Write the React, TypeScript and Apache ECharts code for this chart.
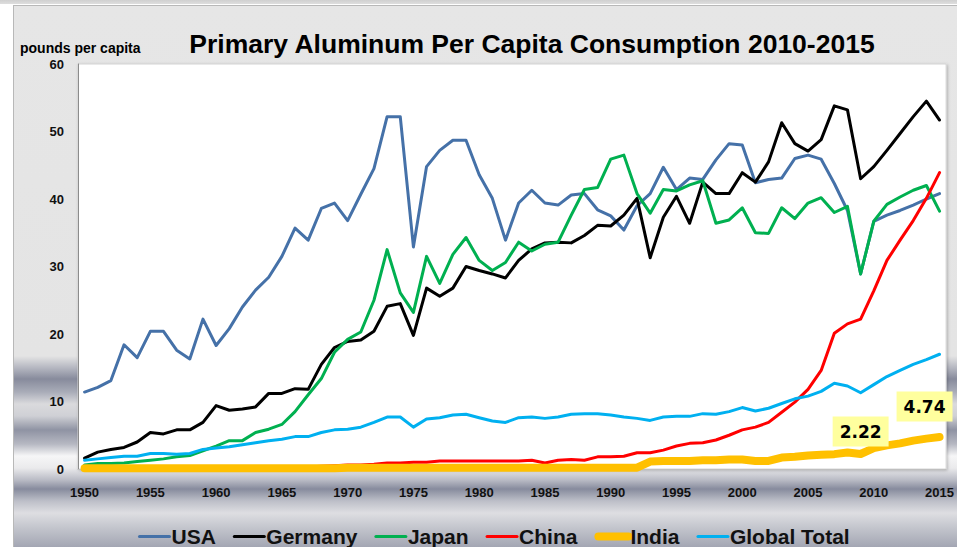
import React, { useEffect, useRef } from "react";
import * as echarts from "echarts";

const years: string[] = [];
for (let y = 1950; y <= 2015; y++) years.push(String(y));

const usa = [
  11.4, 12.1, 13.1, 18.4, 16.5, 20.4, 20.4, 17.6, 16.3, 22.2,
  18.3, 20.8, 24.0, 26.5, 28.4, 31.5, 35.7, 33.9, 38.6, 39.4,
  36.8, 40.7, 44.5, 52.2, 52.2, 32.9, 44.8, 47.2, 48.7, 48.7,
  43.6, 40.1, 33.9, 39.4, 41.3, 39.4, 39.1, 40.6, 40.8, 38.4,
  37.5, 35.4, 39.0, 40.8, 44.7, 41.4, 43.1, 42.9, 45.8, 48.2,
  48.0, 42.4, 42.9, 43.1, 46.0, 46.5, 45.9, 42.3, 38.3, 28.9,
  36.7, 37.6, 38.3, 39.1, 40.0, 40.8,
];
const germany = [
  1.6, 2.5, 2.9, 3.2, 4.0, 5.4, 5.2, 5.8, 5.8, 6.9,
  9.4, 8.7, 8.9, 9.2, 11.2, 11.2, 11.9, 11.8, 15.5, 18.0,
  18.9, 19.1, 20.4, 24.1, 24.5, 19.8, 26.8, 25.6, 26.8, 30.0,
  29.4, 28.9, 28.3, 30.9, 32.6, 33.5, 33.6, 33.5, 34.6, 36.1,
  36.0, 37.6, 40.1, 31.3, 37.3, 40.4, 36.4, 42.5, 40.8, 40.8,
  43.9, 42.5, 45.5, 51.3, 48.2, 47.1, 48.8, 53.8, 53.2, 43.0,
  44.8, 47.2, 49.7, 52.2, 54.5, 51.7,
];
const japan = [
  0.6, 0.8, 0.8, 0.9, 1.1, 1.3, 1.5, 1.8, 2.0, 2.7,
  3.4, 4.2, 4.2, 5.4, 5.9, 6.6, 8.5, 11.0, 13.4, 17.3,
  19.2, 20.3, 25.0, 32.5, 26.1, 23.2, 31.5, 27.5, 31.8, 34.3,
  30.9, 29.4, 30.6, 33.6, 32.3, 33.3, 33.6, 37.6, 41.4, 41.7,
  45.9, 46.5, 40.8, 37.9, 41.4, 41.2, 42.1, 42.7, 36.4, 36.9,
  38.7, 35.0, 34.9, 38.7, 37.1, 39.4, 40.2, 38.0, 38.9, 28.9,
  36.7, 39.2, 40.3, 41.3, 42.0, 38.2,
];
const china = [
  0.1, 0.1, 0.1, 0.1, 0.1, 0.1, 0.1, 0.1, 0.2, 0.2,
  0.2, 0.2, 0.2, 0.2, 0.2, 0.2, 0.3, 0.3, 0.4, 0.5,
  0.6, 0.6, 0.7, 0.9, 0.9, 1.0, 1.0, 1.2, 1.2, 1.2,
  1.2, 1.2, 1.2, 1.2, 1.3, 0.9, 1.3, 1.4, 1.3, 1.8,
  1.8, 1.9, 2.4, 2.4, 2.8, 3.4, 3.8, 3.9, 4.3, 5.0,
  5.8, 6.2, 6.9, 8.4, 9.9, 11.8, 14.6, 20.1, 21.5, 22.2,
  26.4, 30.9, 33.9, 36.8, 40.1, 43.9,
];
const india = [
  0.1, 0.1, 0.1, 0.1, 0.1, 0.1, 0.1, 0.1, 0.1, 0.1,
  0.1, 0.1, 0.1, 0.1, 0.1, 0.1, 0.1, 0.1, 0.1, 0.1,
  0.2, 0.2, 0.2, 0.2, 0.2, 0.2, 0.2, 0.2, 0.2, 0.2,
  0.2, 0.2, 0.2, 0.2, 0.2, 0.2, 0.2, 0.2, 0.2, 0.2,
  0.2, 0.2, 0.2, 1.1, 1.2, 1.2, 1.2, 1.3, 1.3, 1.4,
  1.4, 1.2, 1.2, 1.7, 1.8, 2.0, 2.1, 2.2, 2.45, 2.22,
  3.1, 3.5, 3.8, 4.2, 4.5, 4.74,
];
const globalTotal = [
  1.3, 1.5, 1.7, 1.9, 1.9, 2.3, 2.3, 2.2, 2.3, 2.9,
  3.1, 3.3, 3.6, 3.9, 4.2, 4.4, 4.8, 4.8, 5.4, 5.8,
  5.9, 6.2, 6.9, 7.7, 7.7, 6.2, 7.4, 7.6, 8.0, 8.1,
  7.6, 7.1, 6.9, 7.6, 7.7, 7.5, 7.7, 8.1, 8.2, 8.2,
  8.0, 7.7, 7.5, 7.2, 7.7, 7.8, 7.8, 8.2, 8.1, 8.5,
  9.1, 8.6, 9.0, 9.7, 10.4, 10.8, 11.5, 12.7, 12.3, 11.3,
  12.5, 13.7, 14.6, 15.5, 16.2, 17.0,
];
const labelledYears = ["2009", "2015"];

const FONT = "'Liberation Sans', Arial, sans-serif";

export default function App() {
  const ref = useRef<HTMLDivElement>(null);
  useEffect(() => {
    if (!ref.current) return;
    const chart = echarts.init(ref.current, undefined, { renderer: "svg" });
    const labelStyle = (yr: string) =>
      yr === "2015"
        ? { distance: 15, offset: [-15, 0] }
        : { distance: 7, offset: [0, 0] };
    const indiaData = india.map((v, i) =>
      labelledYears.includes(years[i])
        ? {
            value: v,
            symbol: "circle",
            symbolSize: 1,
            itemStyle: { color: "rgba(0,0,0,0)" },
            label: {
              show: true,
              position: "top",
              ...labelStyle(years[i]),
              formatter: String(v),
              fontFamily: "'DejaVu Sans', sans-serif",
              fontWeight: "bold",
              fontSize: 17,
              color: "#000",
              backgroundColor: "#ffff9e",
              padding: [7, 7, 6, 7],
            },
          }
        : v
    );
    const colors: Record<string, string> = {
      USA: "#4571a8",
      Germany: "#000000",
      Japan: "#00b050",
      China: "#ff0000",
      India: "#ffc000",
      "Global Total": "#00b0f0",
    };
    const widths: Record<string, number> = {
      USA: 3, Germany: 3, Japan: 3, China: 3, India: 8, "Global Total": 3,
    };
    const mk = (name: string, data: any[]) => ({
      name,
      type: "line",
      data,
      symbol: "none",
      showSymbol: true,
      lineStyle: { color: colors[name], width: widths[name], join: "round", cap: "round" },
      itemStyle: { color: colors[name] },
    });
    const names = ["USA", "Germany", "Japan", "China", "India", "Global Total"];
    chart.setOption({
      animation: false,
      backgroundColor: "transparent",
      graphic: [
        {
          type: "text",
          x: 532,
          y: 30,
          style: {
            text: "Primary Aluminum Per Capita Consumption 2010-2015",
            font: `bold 26.5px ${FONT}`,
            fill: "#000",
            textAlign: "center",
          },
        },
        {
          type: "text",
          x: 20,
          y: 41,
          style: {
            text: "pounds per capita",
            font: `bold 14px ${FONT}`,
            fill: "#000",
          },
        },
      ],
      grid: {
        left: 78,
        right: 10,
        top: 64,
        bottom: 78,
        show: true,
        backgroundColor: "#ffffff",
        borderColor: "#d4d4d4",
        borderWidth: 1,
        shadowColor: "rgba(0,0,0,0.25)",
        shadowBlur: 3,
        shadowOffsetX: 1,
        shadowOffsetY: 1,
      },
      legend: {
        left: 133,
        top: 521,
        itemWidth: 30,
        itemHeight: 14,
        itemGap: 17,
        textStyle: {
          fontFamily: FONT,
          fontWeight: "bold",
          fontSize: 21,
          color: "#111",
          padding: [0, 0, 0, -3],
        },
        data: names.map((n) => ({
          name: n,
          itemStyle: { opacity: 0 },
          lineStyle: { color: colors[n], width: widths[n], cap: "round" },
        })),
      },
      xAxis: {
        type: "category",
        data: years,
        boundaryGap: true,
        axisLine: { lineStyle: { color: "#bfbfbf", width: 1 } },
        axisTick: { show: false },
        axisLabel: {
          interval: 4,
          margin: 17,
          fontFamily: FONT,
          fontWeight: "bold",
          fontSize: 13,
          color: "#111",
        },
        splitLine: { show: false },
      },
      yAxis: {
        type: "value",
        min: 0,
        max: 60,
        interval: 10,
        axisLine: { show: true, lineStyle: { color: "#8c8c8c", width: 1 } },
        axisTick: { show: false },
        splitLine: { show: false },
        axisLabel: {
          margin: 14,
          fontFamily: FONT,
          fontWeight: "bold",
          fontSize: 13,
          color: "#111",
        },
      },
      series: [
        mk("USA", usa),
        mk("Germany", germany),
        mk("Japan", japan),
        mk("China", china),
        mk("India", indiaData),
        mk("Global Total", globalTotal),
      ],
    });
    return () => chart.dispose();
  }, []);

  const bg =
    "linear-gradient(to bottom, #e6e6e6 0px, #e4e4e4 350px, #b4b6c0 362px, #878b9c 373px, #a9acb8 386px, #dadadd 398px, #cfd0d5 410px, #8f93a3 424px, #b6b8c2 438px, #f6f6f7 450px, #eaeaec 462px, #b9bbc5 474px, #878b9d 483px, #bdbfc8 495px, #dedee2 507px, #c6c8cf 520px, #a3a6b3 541px)";

  return (
    <div
      style={{
        position: "absolute",
        left: 0,
        top: 0,
        width: 957,
        height: 547,
        background: "#ffffff",
        overflow: "hidden",
      }}
    >
      <div
        style={{
          position: "absolute",
          left: 0,
          top: 0,
          width: 957,
          height: 4,
          background: "linear-gradient(to bottom, #d0d0d0, #dedede)",
        }}
      />
      <div
        style={{
          position: "absolute",
          left: 13,
          top: 5,
          width: 944,
          height: 542,
          boxSizing: "border-box",
          borderLeft: "1px solid #b8b8b8",
          borderTop: "1px solid #b8b8b8",
          background: bg,
        }}
      />
      <div
        ref={ref}
        style={{ position: "absolute", left: 0, top: 0, width: 957, height: 547 }}
      />
    </div>
  );
}
